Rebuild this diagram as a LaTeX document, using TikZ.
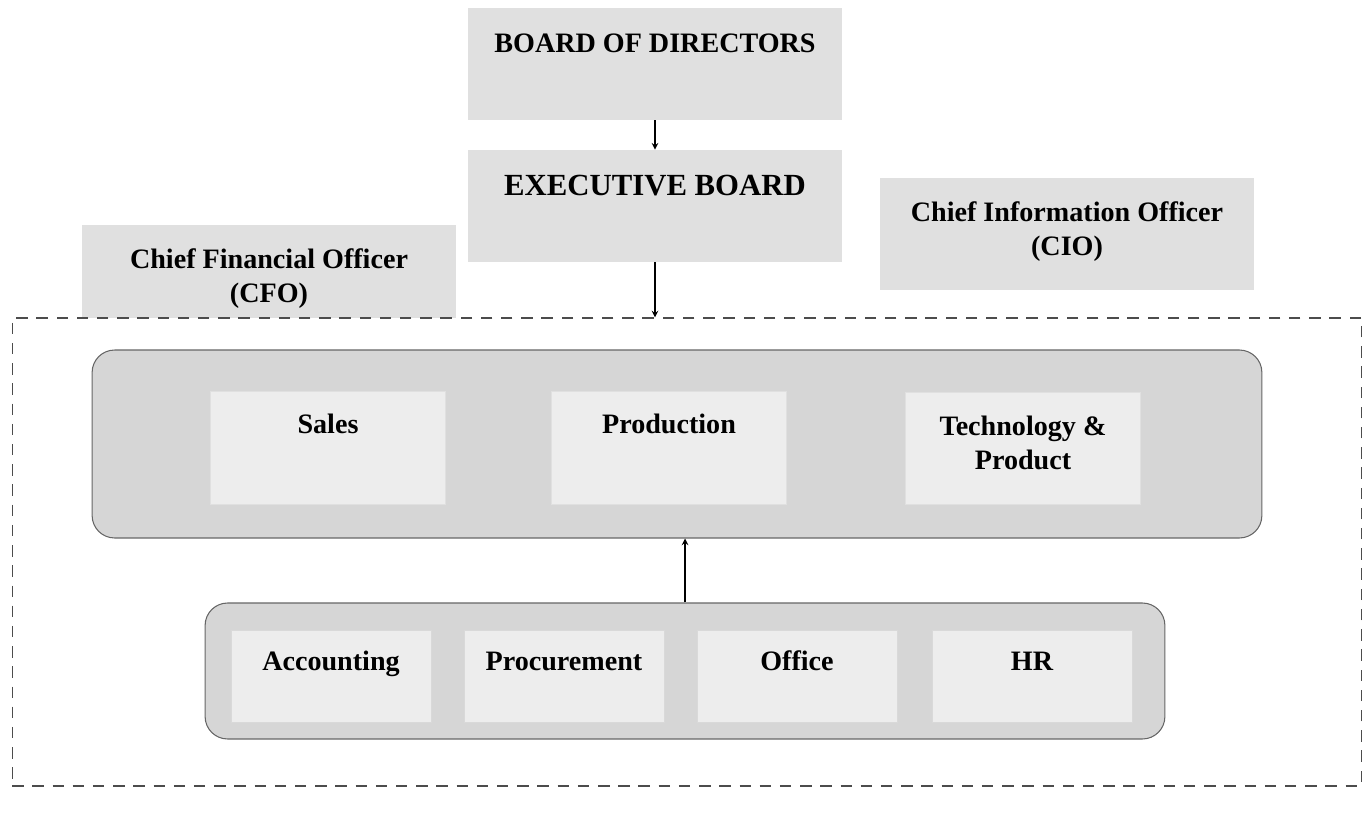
\documentclass[tikz,border=0pt]{standalone}
\usepackage{fontspec}
\setmainfont{Liberation Serif}
\usetikzlibrary{arrows}

\definecolor{boxgray}{gray}{0.88}
\definecolor{contgray}{gray}{0.84}
\definecolor{unitgray}{gray}{0.93}
\newcommand\orgfont{\fontsize{16}{19.5}\selectfont\bfseries}

\tikzset{
    topbox/.style={fill=boxgray, inner sep=0pt, minimum width=7.5cm,
        text height=0.9cm, text depth=1.34cm, align=center, font=\orgfont},
    frame/.style={draw=black!70, dash pattern=on 6.5pt off 5pt, line width=0.7pt,
        minimum width=27cm, minimum height=9.36cm},
    dept/.style={draw=black!60, fill=contgray, rounded corners=0.45cm, line width=0.6pt},
    unit/.style={fill=unitgray, draw=black!12, inner sep=0pt, minimum width=4.7cm,
        text height=0.84cm, text depth=1.42cm, align=center, font=\orgfont},
    subunit/.style={fill=unitgray, draw=black!15, inner sep=0pt, minimum width=4cm,
        text height=0.8cm, text depth=1.04cm, align=center, font=\orgfont},
    twoline/.style={text height=#1, text depth=2.24cm-#1},
    link/.style={->, >=stealth, line width=0.7pt}
}

\begin{document}
\begin{tikzpicture}[x=0.02cm, y=-0.02cm]
    \useasboundingbox (0,0) rectangle (1370,814);

    % Boards
    \node[topbox] (bod) at (655,64) {BOARD OF DIRECTORS};
    \node[topbox, font=\fontsize{17.5}{20}\selectfont\bfseries] (exec) at (655,206) {EXECUTIVE BOARD};
    \node[topbox, text height=1.56cm, text depth=0.3cm] (cfo) at (269,271.5) {Chief Financial Officer\\(CFO)};
    \node[topbox, twoline=1.56cm] (cio) at (1067,234) {Chief Information Officer\\(CIO)};

    % Dashed frame
    \node[frame] (frame) at (687,552) {};

    % Upper departments
    \node[dept, minimum width=23.4cm, minimum height=3.76cm] (upper) at (677,444) {};
    \node[unit] (sales) at (328,448) {Sales};
    \node[unit] (prod) at (669,448) {Production};
    \node[unit, twoline=1.56cm] (tech) at (1023,448) {Technology \&\\Product};

    % Lower departments
    \node[dept, minimum width=19.2cm, minimum height=2.72cm] (lower) at (685,671) {};
    \node[subunit] (acct) at (331,676) {Accounting};
    \node[subunit] (proc) at (564,676) {Procurement};
    \node[subunit] (office) at (797,676) {Office};
    \node[subunit] (hr) at (1032,676) {HR};

    % Arrows
    \draw[link] (bod) -- (exec);
    \draw[link] (exec) -- (exec.south |- frame.north);
    \draw[link] (lower.north) -- (lower.north |- upper.south);

\end{tikzpicture}
\end{document}
